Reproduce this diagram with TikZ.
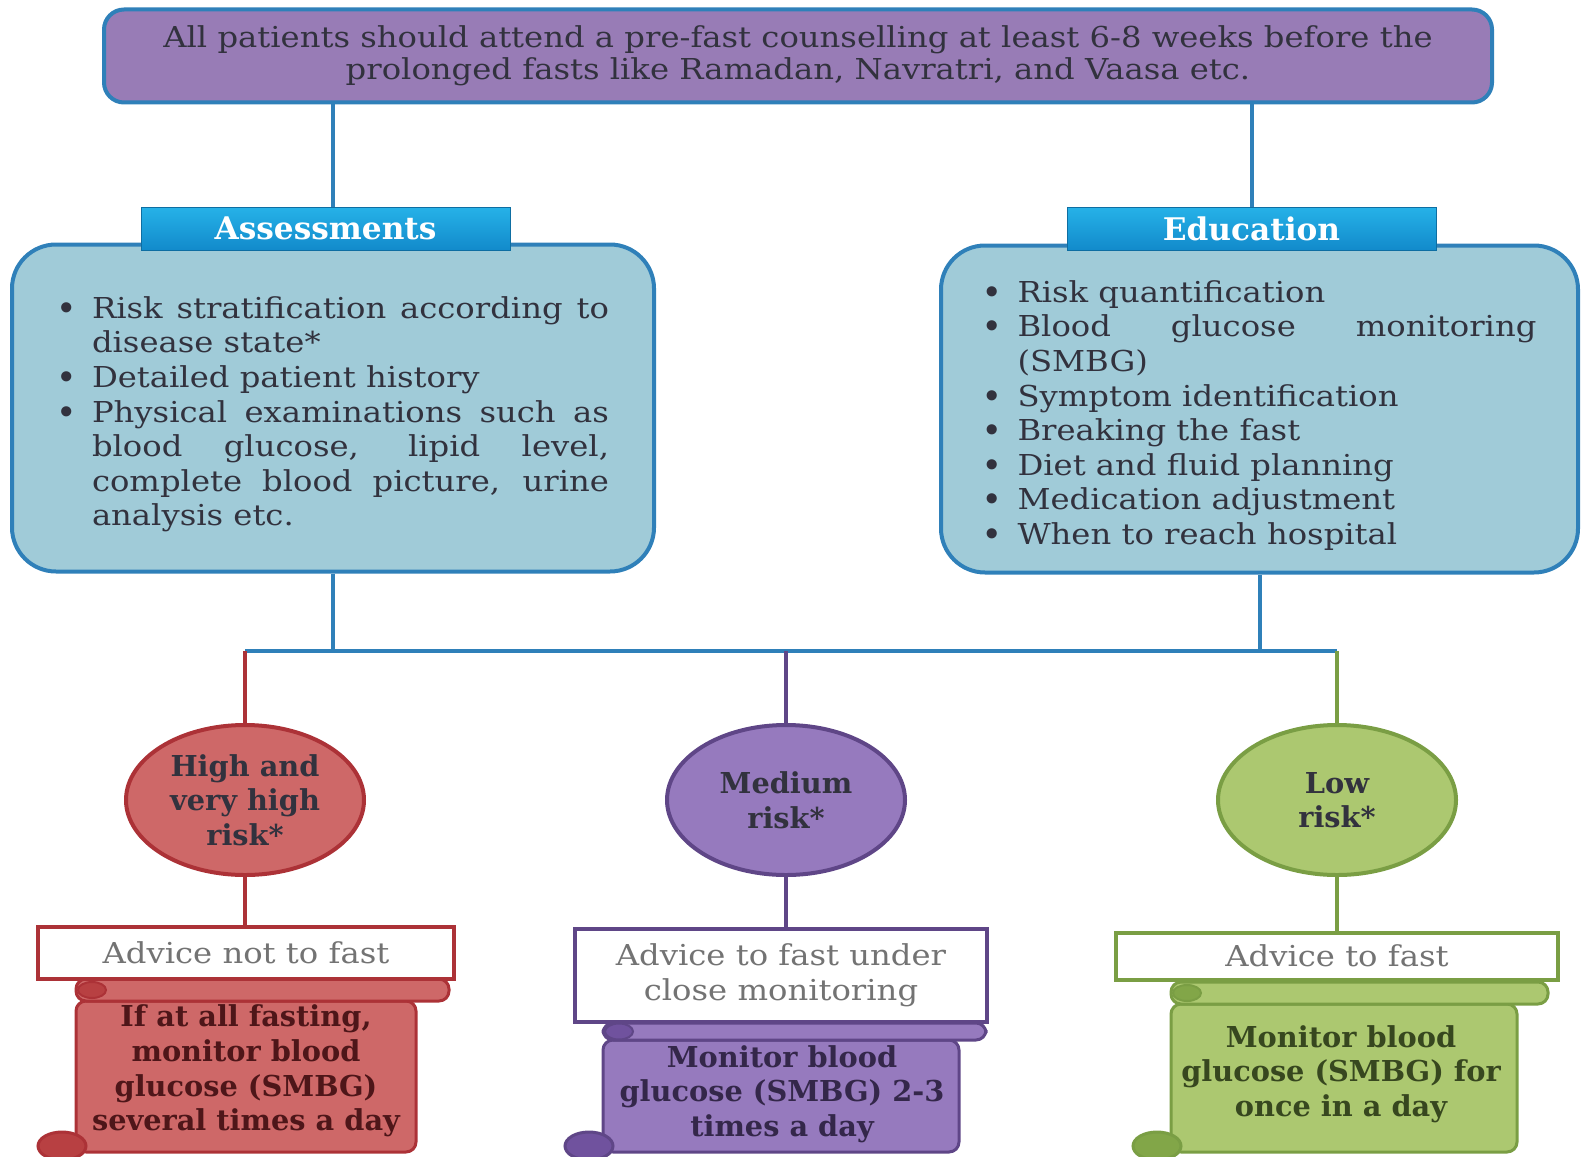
\documentclass[tikz,border=0pt]{standalone}
\usepackage{fontspec}
\setmainfont{DejaVu Serif}
\newfontfamily\widefont{DejaVu Serif}[FakeStretch=1.12]
\usetikzlibrary{shapes.geometric, positioning, calc}

\definecolor{toppurple}{RGB}{152,124,182}
\definecolor{linkblue}{RGB}{47,128,185}
\definecolor{boxblue}{RGB}{160,203,216}
\definecolor{headtop}{RGB}{38,178,232}
\definecolor{headbot}{RGB}{18,138,203}
\definecolor{txtdark}{RGB}{50,50,62}
\definecolor{redfill}{RGB}{206,104,104}
\definecolor{redline}{RGB}{172,50,55}
\definecolor{reddark}{RGB}{184,64,66}
\definecolor{purfill}{RGB}{150,122,190}
\definecolor{purline}{RGB}{95,70,135}
\definecolor{purdark}{RGB}{112,82,158}
\definecolor{grnfill}{RGB}{172,200,112}
\definecolor{grnline}{RGB}{122,158,68}
\definecolor{grndark}{RGB}{130,166,72}

\hyphenpenalty=10000
\tolerance=9999
\hbadness=10000
\newcommand{\bodyfont}{\widefont\fontsize{14.4}{17.3}\selectfont}
\newcommand{\boldfont}{\normalfont\fontsize{14.4}{17.3}\selectfont\bfseries}
\newcommand{\bitem}{\par\noindent\hangindent=17.5pt\hangafter=1\hbox to 17.5pt{{\normalfont\bfseries\textbullet}\hfil}}
% scroll behind the monitoring text: colour, left, bar right, body right, bar top, bar bottom
\newcommand{\monscroll}[6]{%
  \draw[draw=#1line, fill=#1fill, line width=1.5pt, rounded corners=5pt]
    (#2,#6) rectangle (#4,1152);
  \draw[draw=#1line, fill=#1dark, line width=1.5pt]
    (#2-14,1146) ellipse [x radius=12pt, y radius=7pt];
  \draw[draw=#1line, fill=#1fill, line width=1.5pt, rounded corners=5pt]
    (#2,#5) rectangle (#3,#6);
  \draw[draw=#1line, fill=#1dark, line width=1pt]
    (#2+16,{(#5+#6)/2}) ellipse [x radius=7pt, y radius=4pt];
}

\begin{document}
\begin{tikzpicture}[x=0.5pt, y=-0.5pt, on grid,
    every node/.style={font=\bodyfont, text=txtdark},
    topbox/.style={draw=linkblue, fill=toppurple, line width=2pt, rounded corners=10pt,
      minimum width=694pt, minimum height=46.5pt, align=center,
      font=\widefont\fontsize{14.4}{16.2}\selectfont},
    catbox/.style={draw=linkblue, fill=boxblue, line width=2pt, rounded corners=22pt,
      minimum width=321pt, minimum height=163.5pt, text width=276pt, align=justify},
    cathead/.style={draw=headbot!80!black, top color=headtop, bottom color=headbot,
      minimum width=184.5pt, minimum height=21.5pt, text=white,
      font=\normalfont\fontsize{15.6}{17}\selectfont\bfseries},
    riskcirc/.style={ellipse, line width=2pt, minimum width=119pt, minimum height=75pt,
      inner sep=0pt, align=center, font=\boldfont},
    advbox/.style={fill=white, line width=2pt, align=center, text=black!55},
    montxt/.style={align=center, font=\boldfont},
    link/.style={line width=2pt, color=linkblue}]
  \useasboundingbox (0,0) rectangle (1583,1156);

  \node[topbox] (top) at (798,56) {All patients should attend a pre-fast counselling at least 6-8 weeks before the\\prolonged fasts like Ramadan, Navratri, and Vaasa etc.};

  \node[catbox] (assess) at (333,408) {\bitem Risk stratification according to disease state*
    \bitem Detailed patient history
    \bitem Physical examinations such as\linebreak blood glucose, lipid level,\linebreak complete blood picture, urine\linebreak analysis etc.\par};
  \node[catbox, minimum width=318.5pt, text width=277pt] (edu) at (1259.5,409) {\bitem Risk quantification
    \bitem Blood glucose monitoring (SMBG)
    \bitem Symptom identification
    \bitem Breaking the fast
    \bitem Diet and fluid planning
    \bitem Medication adjustment
    \bitem When to reach hospital\par};
  \node[cathead] (assessHead) at (325.5,228.5) {Assessments};
  \node[cathead] (eduHead) [right=463pt of assessHead] {Education};

  \coordinate (hub) at (0,651);

  \node[riskcirc, draw=redline, fill=redfill] (high) at (245,800) {High and\\very high\\risk*};
  \node[riskcirc, draw=purline, fill=purfill] (medium) [right=270.5pt of high] {Medium\\risk*};
  \node[riskcirc, draw=grnline, fill=grnfill] (low) [right=275.5pt of medium] {Low\\risk*};

  % scrolls
  \monscroll{red}{76}{449}{416}{979}{1001}
  \monscroll{pur}{603}{986}{959}{1023}{1040}
  \monscroll{grn}{1171}{1548}{1517}{982}{1004}

  \node[advbox, draw=redline, minimum width=208pt, minimum height=26pt] (highAdv) at (246,953) {Advice not to fast};
  \node[advbox, draw=purline, minimum width=206pt, minimum height=46.5pt] (medAdv) at (781,975) {Advice to fast under\\close monitoring};
  \node[advbox, draw=grnline, minimum width=221pt, minimum height=23.5pt] (lowAdv) at (1337,956) {Advice to fast};

  \node[montxt, text=redline!45!black] (highMon) at (246,1071) {If at all fasting,\\monitor blood\\glucose (SMBG)\\several times a day};
  \node[montxt, text=purline!55!black] (medMon) at (782,1094) {Monitor blood\\glucose (SMBG) 2-3\\times a day};
  \node[montxt, text=grnline!45!black] (lowMon) at (1341,1074) {Monitor blood\\glucose (SMBG) for\\once in a day};

  \path[link]
    (top.south -| assess) edge (assessHead.north -| assess)
    (top.south -| eduHead) edge (eduHead.north)
    (assess.south) edge (assess.south |- hub)
    (edu.south) edge (edu.south |- hub)
    (high |- hub) edge (low |- hub);
  \path[line width=2pt, color=redline]
    (high |- hub) edge (high.north)
    (high.south) edge (high.south |- highAdv.north);
  \path[line width=2pt, color=purline]
    (medium |- hub) edge (medium.north)
    (medium.south) edge (medium.south |- medAdv.north);
  \path[line width=2pt, color=grnline]
    (low |- hub) edge (low.north)
    (low.south) edge (low.south |- lowAdv.north);
\end{tikzpicture}
\end{document}
